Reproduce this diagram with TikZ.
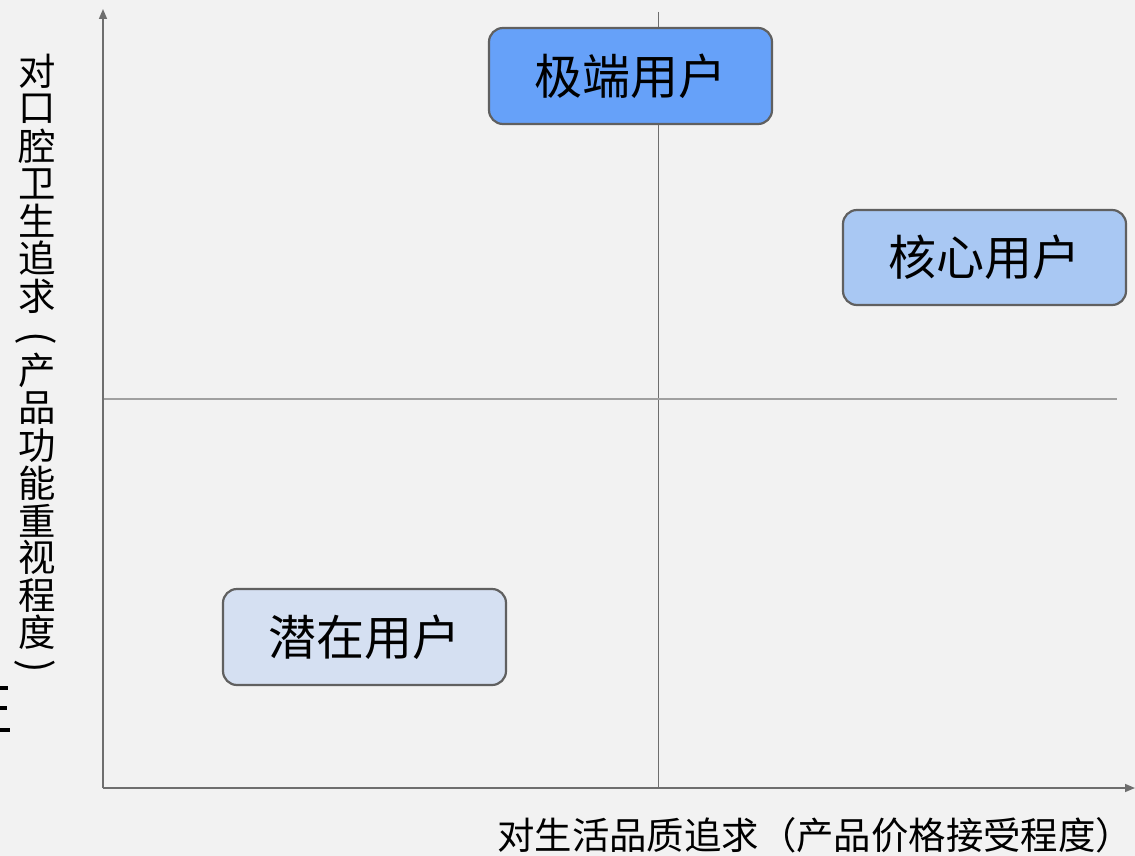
\documentclass[tikz,border=0pt]{standalone}
\usepackage{fontspec}
\usepackage{graphicx}
\newfontfamily\cjk{Noto Sans CJK SC}
\usetikzlibrary{arrows.meta}
\definecolor{bgc}{HTML}{F2F2F2}
\definecolor{axisc}{HTML}{6E6E6E}
\definecolor{divc}{HTML}{A0A0A0}
\definecolor{boxline}{HTML}{606060}
\definecolor{fillA}{HTML}{66A1F9}
\definecolor{fillB}{HTML}{A9C8F3}
\definecolor{fillC}{HTML}{D5E0F2}
\tikzset{
  userbox/.style={draw=boxline, line width=2.2pt, rounded corners=14pt,
    minimum width=283pt, minimum height=96pt, inner sep=0pt,
    font=\cjk\fontsize{48}{48}\selectfont},
  axisline/.style={draw=axisc, line width=1.5pt, -{Triangle[length=10pt,width=8pt]}},
  vchar/.style={inner sep=0pt, font=\cjk\fontsize{37.4}{37.4}\selectfont},
  vparen/.style={inner sep=0pt, font=\cjk\fontsize{40}{40}\selectfont},
  frag/.style={line width=4pt, black}
}
\begin{document}
\begin{tikzpicture}[x=1pt,y=-1pt]
\fill[bgc] (0,0) rectangle (1135,856);
\useasboundingbox (0,0) rectangle (1135,856);
% coordinates
\coordinate (O) at (103,788);
\coordinate (ytip) at (103,9);
\coordinate (xtip) at (1135,788);
\coordinate (vtop) at (658,12);
\coordinate (vbot) at (658,788);
\coordinate (hl) at (103,399);
\coordinate (hr) at (1117,399);
% dividers
\draw[axisc, line width=1pt] (vtop) -- (vbot);
\draw[divc, line width=2pt] (hl) -- (hr);
% axes
\draw[axisline] (O) -- (ytip);
\draw[axisline] (O) -- (xtip);
% boxes
\node[userbox, fill=fillA] (ext) at (630.5,76) {极端用户};
\node[userbox, fill=fillB, minimum height=95pt] (core) at (984.5,257.5) {核心用户};
\node[userbox, fill=fillC] (pot) at (364.5,637) {潜在用户};
% x label
\node[inner sep=0pt, anchor=west, font=\cjk\fontsize{37.4}{37.4}\selectfont] (xlab) at (497,835) {对生活品质追求（产品价格接受程度）};
% y label (vertical)
\foreach \c [count=\i from 0] in {对,口,腔,卫,生,追,求} {
  \node[vchar] (yl\i) at (37,71.5+\i*37.4) {\c};
}
\node[vparen] (ylp) at (36,341) {\rotatebox[origin=c]{-90}{(}};
\foreach \c [count=\i from 8] in {产,品,功,能,重,视,程,度} {
  \node[vchar] (yl\i) at (37,71.5+\i*37.4) {\c};
}
\node[vparen] (ylq) at (35,669) {\rotatebox[origin=c]{-90}{)}};
% clipped fragments
\coordinate (f1a) at (0,688); \coordinate (f1b) at (8,688);
\coordinate (f2a) at (0,708); \coordinate (f2b) at (7,708);
\coordinate (f3a) at (0,730); \coordinate (f3b) at (10,730);
\draw[frag] (f1a) -- (f1b);
\draw[frag] (f2a) -- (f2b);
\draw[frag] (f3a) -- (f3b);
\end{tikzpicture}
\end{document}
